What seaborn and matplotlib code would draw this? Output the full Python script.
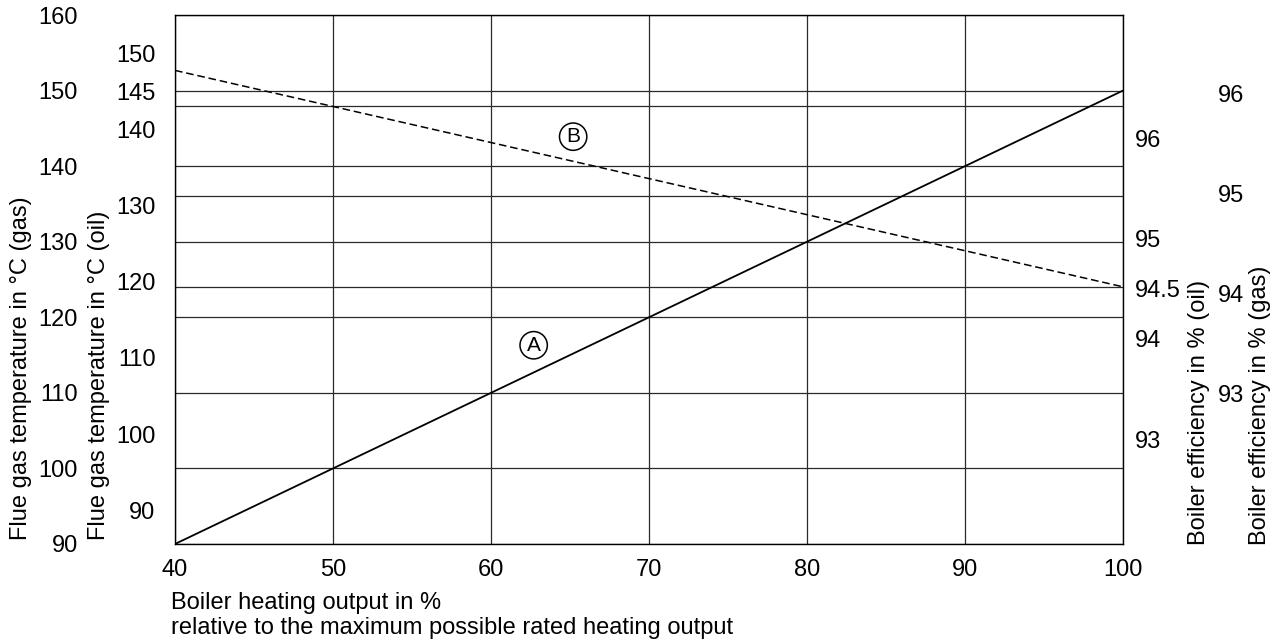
import matplotlib
matplotlib.use("Agg")
import matplotlib.pyplot as plt
import seaborn as sns
import pandas as pd

# ---- data ----
output_pct = [40, 50, 60, 70, 80, 90, 100]
curve_a_gas_temp = [90, 100, 110, 120, 130, 140, 150]            # curve A (flue gas temperature)
curve_b_oil_eff = [96.68, 96.32, 95.96, 95.60, 95.24, 94.88, 94.52]  # curve B (boiler efficiency)

x_ticks = [40, 50, 60, 70, 80, 90, 100]
gas_temp_ticks = [90, 100, 110, 120, 130, 140, 150, 160]
oil_temp_ticks = [90, 100, 110, 120, 130, 140, 145, 150]
oil_eff_ticks = [93, 94, 94.5, 95, 96]
oil_eff_labels = ["93", "94", "94.5", "95", "96"]
gas_eff_ticks = [93, 94, 95, 96]
extra_grid_gas_temp = [124, 136, 148]

sns.set_theme(style="white")
plt.rcParams["font.family"] = ["Liberation Sans", "DejaVu Sans"]
plt.rcParams["text.color"] = "black"
plt.rcParams["axes.labelcolor"] = "black"
FS = 17

fig = plt.figure(figsize=(12.79, 6.41), dpi=100)
ax = fig.add_axes([175 / 1279, 97 / 641, 948 / 1279, 529 / 641])

df_a = pd.DataFrame({"output": output_pct, "temp": curve_a_gas_temp})
sns.lineplot(data=df_a, x="output", y="temp", ax=ax, color="black", lw=1.3)

ax.set_xlim(40, 100)
ax.set_ylim(90, 160)
ax.set_xticks(x_ticks)
ax.set_yticks(gas_temp_ticks)
ax.set_yticks(extra_grid_gas_temp, minor=True)
ax.grid(True, which="both", color="#2a2a2a", lw=0.9)
ax.tick_params(axis="both", which="both", length=0, labelsize=FS, colors="black")
ax.tick_params(axis="y", pad=70)
ax.tick_params(axis="x", pad=10.5)
for s in ax.spines.values():
    s.set_color("black")
    s.set_linewidth(1.0)

ax.set_xlabel("Boiler heating output in %\nrelative to the maximum possible rated heating output",
              fontsize=FS, ha="left", va="top", linespacing=1.15)
ax.xaxis.set_label_coords(-4 / 948, -48 / 529)

ax.set_ylabel("Flue gas temperature in °C (gas)", fontsize=FS)
ax.yaxis.label.set_rotation_mode("default")
ax.yaxis.label.set_ha("center")
ax.yaxis.label.set_va("bottom")
ax.yaxis.set_label_coords((21 - 175) / 948, 4 / 529)

# inner left axis: oil flue gas temperature
ax_ot = ax.twinx()
ax_ot.yaxis.tick_left()
ax_ot.yaxis.set_label_position("left")
ax_ot.set_ylim(85.55, 155.07)
ax_ot.set_yticks(oil_temp_ticks)
ax_ot.tick_params(axis="y", length=0, labelsize=FS, pad=14, colors="black")
ax_ot.set_ylabel("Flue gas temperature in °C (oil)", fontsize=FS)
ax_ot.yaxis.label.set_rotation_mode("default")
ax_ot.yaxis.label.set_ha("center")
ax_ot.yaxis.label.set_va("bottom")
ax_ot.yaxis.set_label_coords((99 - 175) / 948, 4 / 529)

# inner right axis: oil boiler efficiency (curve B drawn on it)
ax_oe = ax.twinx()
df_b = pd.DataFrame({"output": output_pct, "eff": curve_b_oil_eff})
sns.lineplot(data=df_b, x="output", y="eff", ax=ax_oe, color="black", lw=1.1)
ax_oe.lines[0].set_dashes([5, 2.5])
ax_oe.set_ylim(91.953, 97.233)
ax_oe.set_yticks(oil_eff_ticks)
ax_oe.set_yticklabels(oil_eff_labels)
ax_oe.tick_params(axis="y", length=0, labelsize=FS, pad=8.5, colors="black")
ax_oe.set_ylabel("Boiler efficiency in % (oil)", fontsize=FS)
ax_oe.yaxis.label.set_rotation(90)
ax_oe.yaxis.label.set_rotation_mode("default")
ax_oe.yaxis.label.set_ha("center")
ax_oe.yaxis.label.set_va("bottom")
ax_oe.yaxis.set_label_coords((1199 - 175) / 948, -1 / 529)

# outer right axis: gas boiler efficiency
ax_ge = ax.twinx()
ax_ge.set_ylim(91.495, 96.785)
ax_ge.set_yticks(gas_eff_ticks)
ax_ge.tick_params(axis="y", length=0, labelsize=FS, pad=68, colors="black")
ax_ge.set_ylabel("Boiler efficiency in % (gas)", fontsize=FS)
ax_ge.yaxis.label.set_rotation(90)
ax_ge.yaxis.label.set_rotation_mode("default")
ax_ge.yaxis.label.set_ha("center")
ax_ge.yaxis.label.set_va("bottom")
ax_ge.yaxis.set_label_coords((1260 - 175) / 948, -1 / 529)

for a in (ax_ot, ax_oe, ax_ge):
    for s in a.spines.values():
        s.set_visible(False)
    a.set_xlim(40, 100)

# curve markers
ax.text(62.7, 116.3, "A", fontsize=15, ha="center", va="center",
        bbox=dict(boxstyle="circle,pad=0.2", fc="white", ec="black", lw=1.1))
ax.text(65.2, 143.9, "B", fontsize=15, ha="center", va="center",
        bbox=dict(boxstyle="circle,pad=0.2", fc="white", ec="black", lw=1.1))

fig.savefig("out.png", dpi=100)
